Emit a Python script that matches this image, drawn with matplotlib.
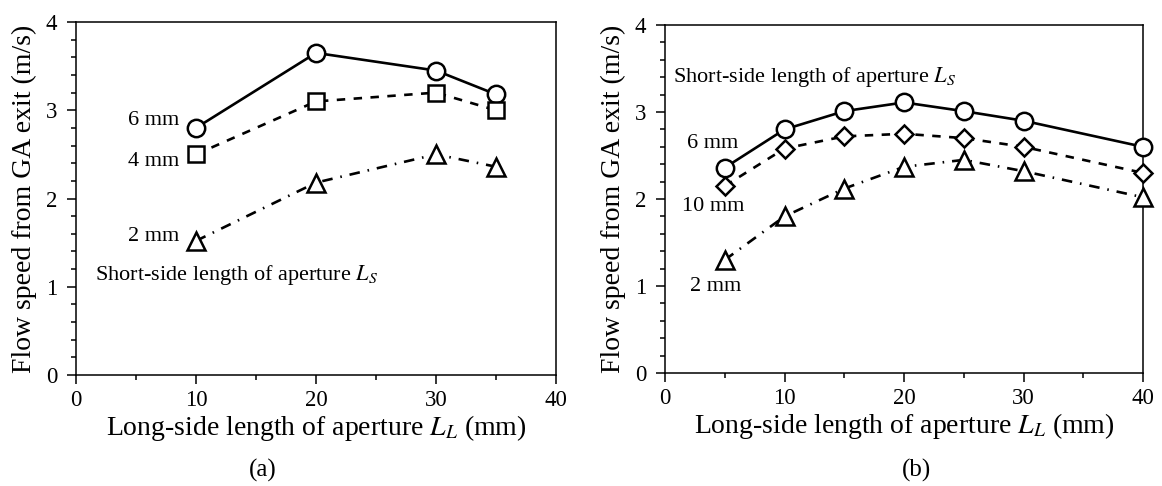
import matplotlib as mpl
mpl.use('Agg')
import matplotlib.pyplot as plt
from matplotlib.ticker import MultipleLocator

plt.rcParams['font.family'] = ['Liberation Serif', 'DejaVu Serif']
plt.rcParams['mathtext.fontset'] = 'stix'

# (a) aperture long side vs flow speed, short side 2/4/6 mm
a_x = [10, 20, 30, 35]
a_6mm = [2.80, 3.65, 3.45, 3.18]
a_4mm = [2.50, 3.10, 3.20, 3.00]
a_2mm = [1.52, 2.18, 2.50, 2.36]

# (b) short side 2/6/10 mm
b_x = [5, 10, 15, 20, 25, 30, 40]
b_6mm = [2.36, 2.80, 3.01, 3.11, 3.01, 2.90, 2.60]
b_10mm = [2.15, 2.58, 2.72, 2.75, 2.70, 2.60, 2.30]
b_2mm = [1.30, 1.80, 2.12, 2.37, 2.45, 2.32, 2.02]

xlabel = "Long-side length of aperture $L_L$ (mm)"
ylabel = "Flow speed from GA exit (m/s)"
note = "Short-side length of aperture $L_S$"

LW = 1.9
DASHED = (0, (3.2, 3.2))
DASHDOT = (0, (4, 3, 0.6, 3))


def style_axes(ax):
    ax.set_xlim(0, 40)
    ax.set_ylim(0, 4)
    ax.xaxis.set_major_locator(MultipleLocator(10))
    ax.xaxis.set_minor_locator(MultipleLocator(5))
    ax.yaxis.set_major_locator(MultipleLocator(1))
    ax.yaxis.set_minor_locator(MultipleLocator(0.2))
    ax.tick_params(which='both', direction='out', width=1.1, labelsize=16.5)
    ax.tick_params(which='major', length=6.5)
    ax.tick_params(which='minor', length=3.3)
    ax.tick_params(axis='y', pad=7)
    ax.tick_params(axis='x', pad=4)
    for s in ax.spines.values():
        s.set_linewidth(1.1)
    ax.set_xlabel(xlabel, fontsize=20, labelpad=2)
    ax.set_ylabel(ylabel, fontsize=20, labelpad=6)


def series(ax, x, y, marker, ls, ms):
    ax.plot(x, y, color='black', lw=LW, linestyle=ls, marker=marker,
            markersize=ms, markerfacecolor='white', markeredgecolor='black',
            markeredgewidth=1.8, clip_on=False, zorder=3)


fig = plt.figure(figsize=(11.62, 4.86), dpi=100)
ax1 = fig.add_axes([0.0654, 0.2284, 0.4131, 0.7263])
ax2 = fig.add_axes([0.5723, 0.2325, 0.4114, 0.7160])

series(ax1, a_x, a_6mm, 'o', '-', 12.5)
series(ax1, a_x, a_4mm, 's', DASHED, 11)
series(ax1, a_x, a_2mm, '^', DASHDOT, 13)
style_axes(ax1)
ax1.text(8.6, 2.88, "6 mm", fontsize=16, ha='right', va='center')
ax1.text(8.6, 2.42, "4 mm", fontsize=16, ha='right', va='center')
ax1.text(8.6, 1.57, "2 mm", fontsize=16, ha='right', va='center')
ax1.text(1.6, 1.13, note, fontsize=16, ha='left', va='center')

series(ax2, b_x, b_6mm, 'o', '-', 12.5)
series(ax2, b_x, b_10mm, 'D', DASHED, 9)
series(ax2, b_x, b_2mm, '^', DASHDOT, 13)
style_axes(ax2)
ax2.text(4.0, 2.64, "6 mm", fontsize=16, ha='center', va='center')
ax2.text(4.0, 1.91, "10 mm", fontsize=16, ha='center', va='center')
ax2.text(4.2, 0.99, "2 mm", fontsize=16, ha='center', va='center')
ax2.text(0.7, 3.40, note, fontsize=16, ha='left', va='center')

fig.text(0.226, 0.033, "(a)", fontsize=18, ha='center', va='center')
fig.text(0.789, 0.033, "(b)", fontsize=18, ha='center', va='center')

fig.savefig("out.png", dpi=100)
plt.close()
